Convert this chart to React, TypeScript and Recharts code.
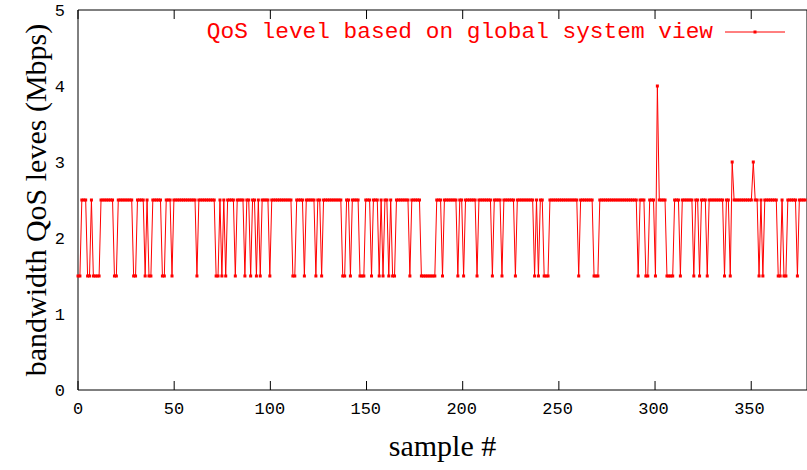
import { LineChart, Line, XAxis, YAxis, Legend } from "recharts";

// QoS level per sample (Mbps)
const qosValues = [
  1.5, 1.5, 2.5, 2.5, 2.5, 1.5, 1.5, 2.5, 1.5, 1.5, 1.5, 1.5, 2.5, 2.5, 2.5, 2.5, 2.5, 2.5, 2.5, 1.5, // 0
  1.5, 2.5, 2.5, 2.5, 2.5, 2.5, 2.5, 2.5, 2.5, 1.5, 1.5, 2.5, 2.5, 2.5, 2.5, 1.5, 2.5, 1.5, 1.5, 2.5, // 20
  2.5, 2.5, 2.5, 2.5, 1.5, 1.5, 2.5, 2.5, 2.5, 1.5, 2.5, 2.5, 2.5, 2.5, 2.5, 2.5, 2.5, 2.5, 2.5, 2.5, // 40
  2.5, 2.5, 1.5, 2.5, 2.5, 2.5, 2.5, 2.5, 2.5, 2.5, 2.5, 2.5, 1.5, 1.5, 2.5, 1.5, 2.5, 1.5, 2.5, 2.5, // 60
  2.5, 2.5, 1.5, 2.5, 2.5, 2.5, 2.5, 1.5, 2.5, 2.5, 1.5, 2.5, 2.5, 1.5, 2.5, 1.5, 2.5, 2.5, 2.5, 2.5, // 80
  1.5, 2.5, 2.5, 2.5, 2.5, 2.5, 2.5, 2.5, 2.5, 2.5, 2.5, 2.5, 1.5, 1.5, 2.5, 2.5, 2.5, 2.5, 1.5, 2.5, // 100
  2.5, 2.5, 2.5, 2.5, 1.5, 2.5, 2.5, 1.5, 2.5, 2.5, 2.5, 2.5, 2.5, 2.5, 2.5, 2.5, 2.5, 2.5, 1.5, 1.5, // 120
  2.5, 2.5, 1.5, 2.5, 2.5, 2.5, 2.5, 1.5, 1.5, 1.5, 2.5, 2.5, 2.5, 1.5, 2.5, 2.5, 2.5, 1.5, 2.5, 1.5, // 140
  2.5, 2.5, 1.5, 2.5, 1.5, 1.5, 2.5, 2.5, 2.5, 2.5, 2.5, 2.5, 2.5, 1.5, 2.5, 2.5, 2.5, 2.5, 2.5, 1.5, // 160
  1.5, 1.5, 1.5, 1.5, 1.5, 1.5, 1.5, 2.5, 2.5, 2.5, 1.5, 2.5, 2.5, 2.5, 2.5, 2.5, 2.5, 2.5, 1.5, 2.5, // 180
  2.5, 1.5, 2.5, 2.5, 2.5, 2.5, 2.5, 2.5, 1.5, 2.5, 2.5, 2.5, 2.5, 2.5, 2.5, 2.5, 1.5, 2.5, 2.5, 2.5, // 200
  2.5, 1.5, 2.5, 2.5, 2.5, 2.5, 2.5, 2.5, 1.5, 2.5, 2.5, 2.5, 2.5, 2.5, 2.5, 2.5, 2.5, 2.5, 1.5, 2.5, // 220
  1.5, 2.5, 2.5, 1.5, 1.5, 1.5, 2.5, 2.5, 2.5, 2.5, 2.5, 2.5, 2.5, 2.5, 2.5, 2.5, 2.5, 2.5, 2.5, 2.5, // 240
  2.5, 1.5, 2.5, 2.5, 2.5, 2.5, 2.5, 2.5, 2.5, 1.5, 1.5, 1.5, 2.5, 2.5, 2.5, 2.5, 2.5, 2.5, 2.5, 2.5, // 260
  2.5, 2.5, 2.5, 2.5, 2.5, 2.5, 2.5, 2.5, 2.5, 2.5, 2.5, 2.5, 1.5, 2.5, 2.5, 2.5, 1.5, 1.5, 2.5, 2.5, // 280
  2.5, 1.5, 4, 2.5, 2.5, 2.5, 2.5, 1.5, 1.5, 1.5, 1.5, 2.5, 2.5, 2.5, 1.5, 2.5, 2.5, 2.5, 2.5, 2.5, // 300
  2.5, 1.5, 2.5, 2.5, 1.5, 2.5, 2.5, 2.5, 1.5, 2.5, 2.5, 2.5, 2.5, 2.5, 2.5, 2.5, 2.5, 1.5, 2.5, 2.5, // 320
  1.5, 3, 2.5, 2.5, 2.5, 2.5, 2.5, 2.5, 2.5, 2.5, 2.5, 2.5, 3, 2.5, 2.5, 1.5, 2.5, 1.5, 2.5, 2.5, // 340
  2.5, 2.5, 2.5, 2.5, 2.5, 1.5, 1.5, 2.5, 1.5, 1.5, 2.5, 2.5, 2.5, 2.5, 2.5, 1.5, 2.5, 2.5, 2.5, 2.5, // 360
];

const xTicks = [0, 50, 100, 150, 200, 250, 300, 350];
const yTicks = [0, 1, 2, 3, 4, 5];

const seriesName = "QoS level based on global system view";
const RED = "#ff0000";

const data = qosValues.map((qos, i) => ({ sample: i, qos }));

const tickStyle = { fill: "#000", fontSize: 17, fontFamily: "Liberation Mono" };
const titleProps = { fill: "#000", fontSize: 30, fontFamily: "Liberation Serif" };

const SquareDot = (props: any) => {
  const { cx, cy, index } = props;
  return <rect key={`d-${index}`} x={cx - 1.5} y={cy - 1.5} width={3} height={3} fill={RED} />;
};

// mirrored axes only show their tick lines, no labels
const NoLabel = () => <g />;

const QosLegend = () => (
  <div style={{ display: "flex", alignItems: "center", justifyContent: "flex-end" }}>
    <span style={{ fontFamily: "Liberation Mono", fontSize: 22.8, color: RED, whiteSpace: "pre" }}>{seriesName}</span>
    <svg width={60} height={10} style={{ marginLeft: 12 }}>
      <line x1={0} y1={5} x2={60} y2={5} stroke={RED} strokeWidth={1} />
      <rect x={28.5} y={3.5} width={3} height={3} fill={RED} />
    </svg>
  </div>
);

const innerTick = { stroke: "#000" };

export default function App() {
  return (
    <div style={{ position: "absolute", left: 0, top: 0, background: "#fff" }}>
      <LineChart width={807} height={470} data={data} margin={{ top: 10, right: 0, bottom: 0, left: 0 }}>
        {/* labelled axes */}
        <XAxis
          xAxisId="x"
          dataKey="sample"
          type="number"
          domain={[0, 380]}
          ticks={xTicks}
          interval={0}
          height={80}
          tickLine={false}
          tickSize={0}
          tickMargin={12}
          axisLine={{ stroke: "#000" }}
          tick={tickStyle}
          label={{ value: "sample #", position: "insideBottom", offset: 14, ...titleProps }}
        />
        <YAxis
          yAxisId="y"
          type="number"
          domain={[0, 5]}
          ticks={yTicks}
          interval={0}
          width={78}
          tickLine={false}
          tickSize={0}
          tickMargin={13}
          axisLine={{ stroke: "#000" }}
          tick={tickStyle}
          label={{ value: "bandwidth QoS leves (Mbps)", angle: -90, position: "center", dx: -4, ...titleProps }}
        />
        {/* inward tick marks on all four sides */}
        <XAxis xAxisId="xb" type="number" domain={[0, 380]} ticks={xTicks} interval={0} orientation="bottom" mirror height={10} tick={NoLabel} tickSize={9} tickLine={innerTick} axisLine={false} />
        <XAxis xAxisId="xt" type="number" domain={[0, 380]} ticks={xTicks} interval={0} orientation="top" mirror height={10} tick={NoLabel} tickSize={9} tickLine={innerTick} axisLine={{ stroke: "#000" }} />
        <YAxis yAxisId="yl" type="number" domain={[0, 5]} ticks={yTicks} interval={0} orientation="left" mirror width={10} tick={NoLabel} tickSize={9} tickLine={innerTick} axisLine={false} />
        <YAxis yAxisId="yr" type="number" domain={[0, 5]} ticks={yTicks} interval={0} orientation="right" mirror width={10} tick={NoLabel} tickSize={9} tickLine={innerTick} axisLine={{ stroke: "#000" }} />
        <Legend
          verticalAlign="middle"
          align="center"
          content={<QosLegend />}
          wrapperStyle={{ top: 19, right: 22, left: "auto", width: "auto" }}
        />
        <Line
          xAxisId="x"
          yAxisId="y"
          type="linear"
          dataKey="qos"
          name={seriesName}
          stroke={RED}
          strokeWidth={1}
          dot={SquareDot}
          activeDot={false}
          isAnimationActive={false}
        />
      </LineChart>
    </div>
  );
}
